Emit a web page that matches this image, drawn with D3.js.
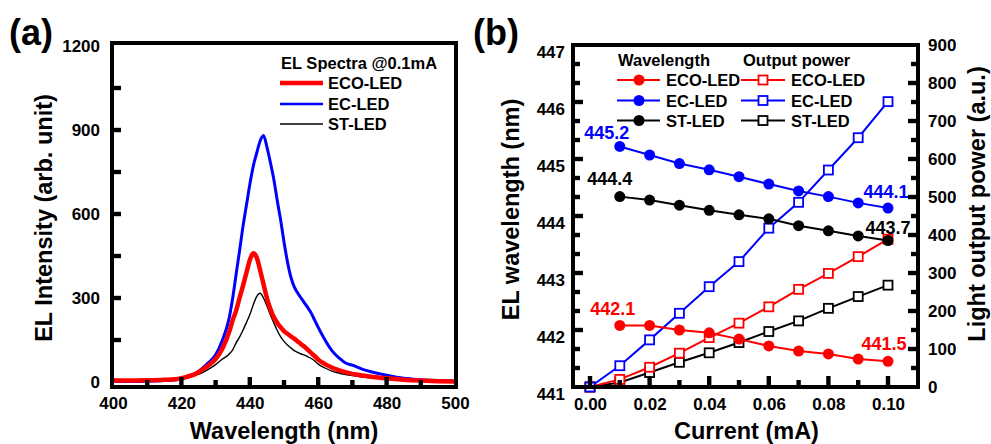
<!DOCTYPE html>
<html>
<head>
<meta charset="utf-8">
<script src="https://cdn.jsdelivr.net/npm/d3@7"></script>
<style>
body { margin: 0; background: #fff; }
svg { display: block; font-family: "Liberation Sans", Arial, sans-serif; font-weight: bold; }
</style>
</head>
<body>
<script>
// ---------- data, panel (a): EL spectra @0.1mA ----------
var wavelengths = [400, 405, 410, 415, 418, 420, 422, 424, 426, 428, 430, 432, 434, 435, 436, 437, 438, 439,
  440, 441, 442, 443, 444, 445, 446, 447, 448, 449, 450, 451, 452, 453, 454, 455, 456, 457, 458, 459,
  460, 462, 464, 466, 468, 470, 473, 476, 480, 485, 490, 495, 500];
var ecoSpectrum = [5, 5, 6, 8, 10, 14, 20, 28, 43, 60, 82, 120, 180, 221, 255, 300, 343, 390,
  435, 460, 445, 400, 350, 300, 262, 232, 212, 196, 182, 172, 163, 155, 145, 135, 126, 115, 103, 92,
  80, 64, 52, 42, 35, 29, 23, 18, 13, 8, 5, 3, 2];
var ecSpectrum = [2, 2, 3, 5, 7, 12, 18, 30, 48, 70, 97, 150, 230, 300, 385, 468, 555, 630,
  705, 770, 817, 860, 880, 840, 785, 725, 650, 580, 500, 430, 375, 340, 318, 300, 282, 265, 245, 220,
  195, 150, 112, 87, 68, 60, 45, 35, 24, 13, 8, 5, 3];
var stSpectrum = [3, 3, 4, 6, 8, 11, 17, 24, 33, 46, 62, 82, 100, 115, 140, 160, 185, 212,
  240, 275, 305, 317, 300, 272, 240, 212, 185, 162, 145, 132, 122, 112, 106, 100, 96, 90, 84, 75,
  64, 50, 39, 32, 27, 23, 18, 14, 10, 7, 5, 3, 2];
var spectraNames = ["ECO-LED", "EC-LED", "ST-LED"];
var xTicksA = [400, 420, 440, 460, 480, 500];
var yTicksA = [0, 300, 600, 900, 1200];

// ---------- data, panel (b): wavelength and output power vs current ----------
var wlCurrent = [0.01, 0.02, 0.03, 0.04, 0.05, 0.06, 0.07, 0.08, 0.09, 0.10];
var ecoWavelength = [442.08, 442.08, 442.00, 441.95, 441.84, 441.72, 441.63, 441.58, 441.49, 441.45];
var ecWavelength = [445.22, 445.07, 444.92, 444.81, 444.69, 444.56, 444.44, 444.34, 444.23, 444.14];
var stWavelength = [444.34, 444.28, 444.19, 444.10, 444.02, 443.95, 443.83, 443.74, 443.65, 443.57];
var powCurrent = [0.00, 0.01, 0.02, 0.03, 0.04, 0.05, 0.06, 0.07, 0.08, 0.09, 0.10];
var ecoPower = [0, 20, 52, 89, 130, 168, 211, 257, 299, 343, 389];
var ecPower = [0, 56, 124, 194, 264, 330, 418, 486, 571, 656, 751];
var stPower = [0, 12, 38, 65, 90, 117, 146, 174, 207, 238, 268];
var xTicksB = [0.00, 0.02, 0.04, 0.06, 0.08, 0.10];
var yTicksL = [441, 442, 443, 444, 445, 446, 447];
var yTicksR = [0, 100, 200, 300, 400, 500, 600, 700, 800, 900];
var annoText = ["445.2", "444.4", "442.1", "444.1", "443.7", "441.5"];
var annoCurrent = [0.01, 0.01, 0.01, 0.10, 0.10, 0.10];
var annoValue = [445.22, 444.34, 442.08, 444.14, 443.57, 441.45];

// colours
var cRed = "#ff0000", cBlue = "#0000ff", cBlack = "#000000";

var svg = d3.select("body").append("svg")
  .attr("width", 991)
  .attr("height", 444);

// tick labels come from d3 axes, the inward tick marks are small rects
function styleAxis(g) {
  g.select(".domain").remove();
  g.selectAll(".tick line").remove();
  g.selectAll(".tick text").attr("fill", "#000").style("font-size", "17px").style("font-weight", "bold")
    .style("font-family", '"Liberation Sans", Arial, sans-serif');
}
function vTicks(g, values, scale, x0, len) {
  g.selectAll(null).data(values).enter().append("rect")
    .attr("x", len > 0 ? x0 : x0 + len)
    .attr("width", Math.abs(len))
    .attr("y", function(d) { return scale(d) - 2.2; })
    .attr("height", 4.4)
    .attr("fill", "#000");
}
function hTicks(g, values, scale, y0, len) {
  g.selectAll(null).data(values).enter().append("rect")
    .attr("y", y0 - len)
    .attr("height", len)
    .attr("x", function(d) { return scale(d) - 2.2; })
    .attr("width", 4.4)
    .attr("fill", "#000");
}

// ================= panel (a) =================
var xA = d3.scaleLinear().domain([400, 500]).range([113, 455]);
var yA = d3.scaleLinear().domain([0, 1200]).range([382, 46]);

var gA = svg.append("g");

gA.append("g").attr("transform", "translate(112,0)")
  .call(d3.axisLeft(yA).tickValues(yTicksA).tickSize(0).tickPadding(12).tickFormat(d3.format("d")))
  .call(styleAxis);
gA.append("g").attr("transform", "translate(0,387)")
  .call(d3.axisBottom(xA).tickValues(xTicksA).tickSize(0).tickPadding(10).tickFormat(d3.format("d")))
  .call(styleAxis);

var lineA = d3.line()
  .x(function(d) { return xA(d[0]); })
  .y(function(d) { return yA(d[1]); })
  .curve(d3.curveMonotoneX);

var spectra = [
  { values: stSpectrum, color: cBlack, width: 1.4 },
  { values: ecSpectrum, color: cBlue, width: 3 },
  { values: ecoSpectrum, color: cRed, width: 4.5 }
];
gA.selectAll("path.spec")
  .data(spectra)
  .enter()
  .append("path")
    .attr("class", "spec")
    .attr("fill", "none")
    .attr("stroke", function(d) { return d.color; })
    .attr("stroke-width", function(d) { return d.width; })
    .attr("stroke-linejoin", "round")
    .attr("d", function(d) { return lineA(wavelengths.map(function(w, i) { return [w, d.values[i]]; })); });

gA.append("rect")
  .attr("x", 112).attr("y", 43).attr("width", 344).attr("height", 344)
  .attr("fill", "none").attr("stroke", "#000").attr("stroke-width", 4);

// legend (a)
gA.append("text").attr("x", 281).attr("y", 69).style("font-size", "16.5px").text("EL Spectra @0.1mA");
var legA = [
  { name: spectraNames[0], color: cRed, width: 4.5 },
  { name: spectraNames[1], color: cBlue, width: 2.5 },
  { name: spectraNames[2], color: cBlack, width: 1.5 }
];
var legARows = gA.selectAll("g.lega").data(legA).enter().append("g")
  .attr("class", "lega")
  .attr("transform", function(d, i) { return "translate(0," + [83, 104, 124][i] + ")"; });
legARows.append("line").attr("x1", 280).attr("x2", 323)
  .attr("stroke", function(d) { return d.color; })
  .attr("stroke-width", function(d) { return d.width; });
legARows.append("text").attr("x", 328).attr("y", 6).style("font-size", "16.5px").text(function(d) { return d.name; });

// titles (a)
gA.append("text").attr("x", 284).attr("y", 439).attr("text-anchor", "middle")
  .style("font-size", "23.5px").text("Wavelength (nm)");
gA.append("text").attr("transform", "translate(52,218) rotate(-90)").attr("text-anchor", "middle")
  .style("font-size", "23.5px").text("EL Intensity (arb. unit)");
svg.append("text").attr("x", 9).attr("y", 45).style("font-size", "36px").text("(a)");

// ================= panel (b) =================
var xB = d3.scaleLinear().domain([0, 0.10]).range([590, 888]);
var yL = d3.scaleLinear().domain([441, 447]).range([387, 45]);
var yR = d3.scaleLinear().domain([0, 900]).range([387, 45]);

var gB = svg.append("g");

gB.append("g").attr("transform", "translate(918,0)")
  .call(d3.axisRight(yR).tickValues(yTicksR).tickSize(0).tickPadding(10).tickFormat(d3.format("d")))
  .call(styleAxis);
gB.append("g").attr("class", "yl").attr("transform", "translate(573,0)")
  .call(d3.axisLeft(yL).tickValues(yTicksL).tickSize(0).tickPadding(8).tickFormat(d3.format("d")))
  .call(styleAxis);
gB.select("g.yl").selectAll(".tick text").attr("dy", "0.75em");
gB.append("g").attr("transform", "translate(0,387)")
  .call(d3.axisBottom(xB).tickValues(xTicksB).tickSize(0).tickPadding(11).tickFormat(d3.format(".2f")))
  .call(styleAxis);

var lineL = d3.line().x(function(d) { return xB(d[0]); }).y(function(d) { return yL(d[1]); });
var lineR = d3.line().x(function(d) { return xB(d[0]); }).y(function(d) { return yR(d[1]); });

var powSeries = [
  { values: stPower, color: cBlack },
  { values: ecoPower, color: cRed },
  { values: ecPower, color: cBlue }
];
var wlSeries = [
  { values: stWavelength, color: cBlack },
  { values: ecoWavelength, color: cRed },
  { values: ecWavelength, color: cBlue }
];

powSeries.forEach(function(s) {
  var pts = powCurrent.map(function(c, i) { return [c, s.values[i]]; });
  gB.append("path").attr("fill", "none").attr("stroke", s.color).attr("stroke-width", 2).attr("d", lineR(pts));
  gB.selectAll(null).data(pts).enter().append("rect")
    .attr("x", function(d) { return xB(d[0]) - 4.5; })
    .attr("y", function(d) { return yR(d[1]) - 4.5; })
    .attr("width", 9).attr("height", 9)
    .attr("fill", "#fff").attr("stroke", s.color).attr("stroke-width", 1.8);
});
wlSeries.forEach(function(s) {
  var pts = wlCurrent.map(function(c, i) { return [c, s.values[i]]; });
  gB.append("path").attr("fill", "none").attr("stroke", s.color).attr("stroke-width", 2).attr("d", lineL(pts));
  gB.selectAll(null).data(pts).enter().append("circle")
    .attr("cx", function(d) { return xB(d[0]); })
    .attr("cy", function(d) { return yL(d[1]); })
    .attr("r", 5.5).attr("fill", s.color);
});

gB.append("rect")
  .attr("x", 573).attr("y", 45).attr("width", 345).attr("height", 342)
  .attr("fill", "none").attr("stroke", "#000").attr("stroke-width", 4);

// value annotations
var annoColor = [cBlue, cBlack, cRed, cBlue, cBlack, cRed];
var annoShift = [[-13, -7], [-10, -12], [-7, -10], [-2, -10], [0, -7], [-4, -11]];
gB.selectAll("text.anno").data(annoText).enter().append("text")
  .attr("class", "anno")
  .attr("x", function(d, i) { return xB(annoCurrent[i]) + annoShift[i][0]; })
  .attr("y", function(d, i) { return yL(annoValue[i]) + annoShift[i][1]; })
  .attr("text-anchor", "middle")
  .attr("fill", function(d, i) { return annoColor[i]; })
  .style("font-size", "18px")
  .text(function(d) { return d; });

// legend (b)
gB.append("text").attr("x", 618).attr("y", 66).style("font-size", "16.5px").text("Wavelength");
gB.append("text").attr("x", 743).attr("y", 66).style("font-size", "16.5px").text("Output power");
var legB = [
  { name: "ECO-LED", color: cRed },
  { name: "EC-LED", color: cBlue },
  { name: "ST-LED", color: cBlack }
];
var legBRows = gB.selectAll("g.legb").data(legB).enter().append("g")
  .attr("class", "legb")
  .attr("transform", function(d, i) { return "translate(0," + [80, 100.5, 120.5][i] + ")"; });
legBRows.append("line").attr("x1", 617).attr("x2", 660).attr("stroke", function(d) { return d.color; }).attr("stroke-width", 2);
legBRows.append("circle").attr("cx", 639).attr("r", 5.5).attr("fill", function(d) { return d.color; });
legBRows.append("text").attr("x", 666).attr("y", 6).style("font-size", "16.5px").text(function(d) { return d.name; });
legBRows.append("line").attr("x1", 741).attr("x2", 785).attr("stroke", function(d) { return d.color; }).attr("stroke-width", 2);
legBRows.append("rect").attr("x", 758.5).attr("y", -4.5).attr("width", 9).attr("height", 9)
  .attr("fill", "#fff").attr("stroke", function(d) { return d.color; }).attr("stroke-width", 1.8);
legBRows.append("text").attr("x", 791).attr("y", 6).style("font-size", "16.5px").text(function(d) { return d.name; });

// titles (b)
gB.append("text").attr("x", 746.5).attr("y", 439).attr("text-anchor", "middle")
  .style("font-size", "23.5px").text("Current (mA)");
gB.append("text").attr("transform", "translate(518.5,209.5) rotate(-90)").attr("text-anchor", "middle")
  .style("font-size", "23.5px").text("EL wavelength (nm)");
gB.append("text").attr("transform", "translate(985,204) rotate(-90)").attr("text-anchor", "middle")
  .style("font-size", "23.5px").text("Light output power (a.u.)");
svg.append("text").attr("x", 473).attr("y", 45).style("font-size", "36px").text("(b)");

// ---------- inward tick marks, drawn last ----------
var gT = svg.append("g");
vTicks(gT, [150, 300, 450, 600, 750, 900, 1050], yA, 112, 9);
hTicks(gT, [420, 440, 460, 480], xA, 387, 10);
hTicks(gT, [410, 430, 450, 470, 490], xA, 387, 7);
var sideTicks = d3.range(50, 900, 50);
vTicks(gT, sideTicks.filter(function(v) { return v % 150 === 0; }), yR, 573, 10);
vTicks(gT, sideTicks.filter(function(v) { return v % 150 !== 0; }), yR, 573, 7);
vTicks(gT, sideTicks.filter(function(v) { return v % 100 === 0; }), yR, 918, -10);
vTicks(gT, sideTicks.filter(function(v) { return v % 100 !== 0; }), yR, 918, -7);
hTicks(gT, xTicksB, xB, 387, 11);
hTicks(gT, [0.01, 0.03, 0.05, 0.07, 0.09], xB, 387, 7);
</script>
</body>
</html>
